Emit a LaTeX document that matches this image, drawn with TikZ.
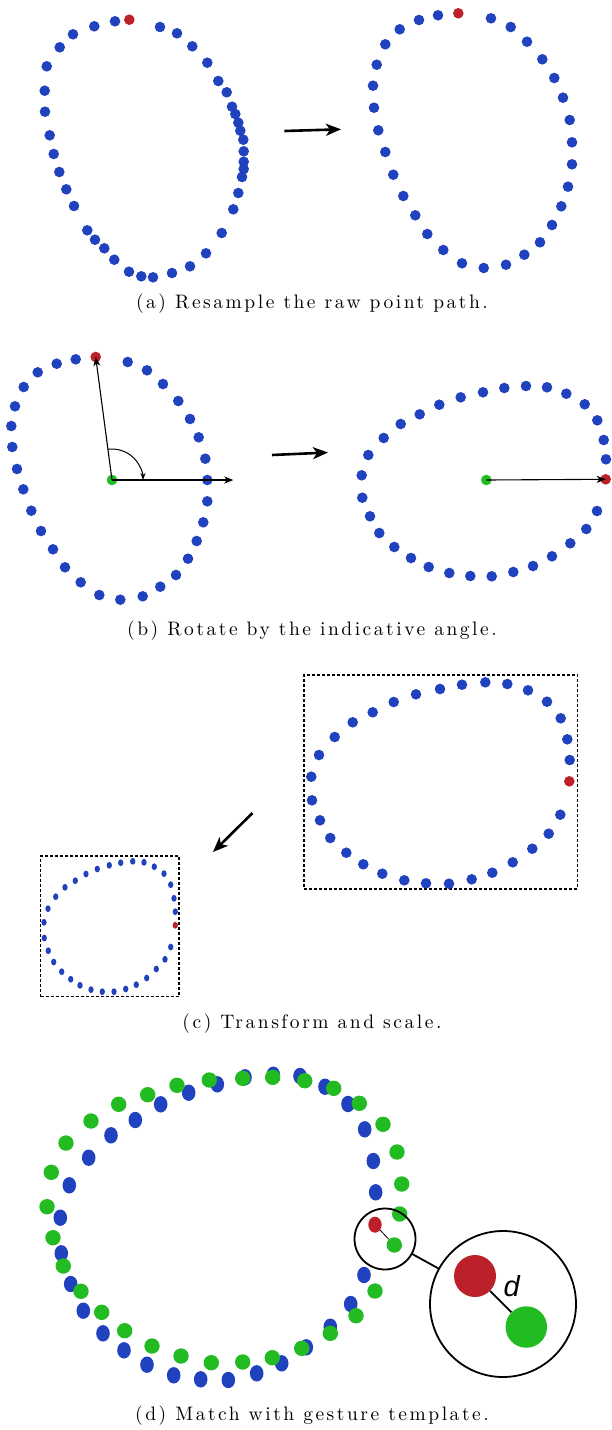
\documentclass[tikz,border=0pt]{standalone}
\usepackage{fontspec}
\newfontfamily\dfont{Liberation Sans}
\newfontfamily\capfont{lmroman10-regular.otf}[LetterSpace=13]
\usetikzlibrary{arrows.meta,shapes.geometric}
\definecolor{dotblue}{HTML}{2142BF}
\definecolor{dotred}{HTML}{BC2029}
\definecolor{dotgreen}{HTML}{22BB22}
\begin{document}
\begin{tikzpicture}[x=1pt,y=-1pt,
  bdot/.style={circle,fill=dotblue,inner sep=0pt,minimum size=10.6pt},
  rdot/.style={circle,fill=dotred,inner sep=0pt,minimum size=10.6pt},
  gdot/.style={circle,fill=dotgreen,inner sep=0pt,minimum size=10.6pt},
  sbdot/.style={ellipse,fill=dotblue,inner sep=0pt,minimum width=5.3pt,minimum height=6.8pt},
  srdot/.style={ellipse,fill=dotred,inner sep=0pt,minimum width=5.3pt,minimum height=6.8pt},
  ebdot/.style={ellipse,fill=dotblue,inner sep=0pt,minimum width=13.6pt,minimum height=16.4pt},
  erdot/.style={ellipse,fill=dotred,inner sep=0pt,minimum width=13.4pt,minimum height=16pt},
  egdot/.style={circle,fill=dotgreen,inner sep=0pt,minimum size=15.4pt},
  bigarrow/.style={line width=2.6pt,-{Stealth[length=15pt,width=12pt,inset=4pt]}},
  thinarrow/.style={line width=1.1pt,-{Stealth[length=9pt,width=7pt,inset=2.5pt]}},
  framebox/.style={draw,line width=1.4pt,dash pattern=on 3pt off 2pt},
  captext/.style={font=\capfont\fontsize{19.5}{23}\selectfont,anchor=base,inner sep=0pt},
]
\useasboundingbox (0,0) rectangle (611,1430);

% ---------- (a) ----------
\foreach \x/\y [count=\i] in {115/21.3, 94.3/26.3, 73/34.3, 59.7/47.3, 46.7/66.3, 44.7/90.7, 45/111.7, 49.7/135.3, 53.7/154, 59.3/172, 66.3/189.3, 74/206, 87.3/230.3, 95/239.7, 104.3/248.3, 114.3/259.7, 129/271.7, 141.3/276.3, 153/277.3, 172/273, 190/266.3, 206/253.3, 221.7/233, 233.3/209.3, 238.3/193, 242/177, 243.7/169, 243.7/161.7, 243.7/151.3, 243.3/139.7, 240.3/130.7, 238.3/122.7, 235.3/114, 232/106.7, 226.7/92.3, 218.3/81, 207.3/62.7, 192.3/46.3, 177/33.3, 160/27}
  \node[bdot] (aL\i) at (\x,\y) {};
\node[rdot] (aLr) at (129.3,19.7) {};

\foreach \x/\y [count=\i] in {438/15.3, 419/20, 399.7/29.3, 385.3/44.3, 376.7/64.7, 373/85.7, 374/107.7, 378.3/130.3, 385.3/152, 393.3/174.7, 403.3/196, 415.3/215.3, 427.3/234, 443.3/250, 462/263.3, 483.7/268, 506/264.7, 524.3/254.7, 540/242.3, 552/225, 561.3/206.3, 568/186.7, 572/164.3, 572/142.3, 569.7/120, 563/97.7, 554.3/78, 542.3/59.3, 527/41.7, 510.7/27, 491/18.3}
  \node[bdot] (aR\i) at (\x,\y) {};
\node[rdot] (aRr) at (458.3,13.3) {};

\coordinate (aA1) at (284.3,131);
\coordinate (aA2) at (341,129.3);
\draw[bigarrow] (aA1) -- (aA2);
\node[captext] (capa) at (312,308) {(a) Resample the raw point path.};

% ---------- (b) ----------
\foreach \x/\y [count=\i] in {75.7/359.3, 56.7/363.7, 37.7/372.3, 23.7/387, 15/406.3, 11.3/426, 12.3/447, 17/469, 23.3/489.3, 31.3/510.7, 41/531, 53/549.3, 65/567.3, 80.7/582.3, 99.3/595, 120.3/599.7, 142.7/596.3, 160.3/586.7, 176/575, 188/558.7, 196.7/541, 203.3/522.3, 207.3/501.3, 207.3/480, 205.3/458.7, 198.7/437.3, 190/419, 178.3/401, 163/384, 147/370.3, 127.7/362}
  \node[bdot] (bL\i) at (\x,\y) {};
\node[rdot] (bLr) at (95.7,357) {};
\node[gdot] (bLg) at (112,480) {};
\coordinate (bLh) at (233.3,480);
\draw[thinarrow] (bLg.center) -- (bLr.center);
\draw[thinarrow] (bLg.center) -- (bLh);
\draw[line width=1pt,-{Stealth[length=7pt,width=5pt,inset=2pt]}] (bLg.center) ++(-97.6:31) arc[start angle=-97.6,end angle=0,radius=31];

\foreach \x/\y [count=\i] in {606/459.3, 603.7/440, 597.3/420.3, 584.7/404.3, 566.3/393.7, 547/387.3, 526/386, 504.3/388, 483/392.3, 460.7/397.3, 439.3/404.7, 419.7/414.3, 400.7/424, 383.7/438, 368.3/455, 361.7/475.3, 362.3/497.7, 370/516.3, 379.3/533, 394.3/547, 411/558, 428.7/567, 449.3/573, 470.3/576, 491.7/576.3, 513.3/572, 533/566, 552/556.3, 570.3/543.3, 586.3/529, 597/511}
  \node[bdot] (bR\i) at (\x,\y) {};
\node[rdot] (bRr) at (605.7,479.3) {};
\node[gdot] (bRg) at (486.3,480) {};
\draw[thinarrow] (bRg.center) -- (bRr.center);

\coordinate (bA1) at (272,455);
\coordinate (bA2) at (328,452.5);
\draw[bigarrow] (bA1) -- (bA2);
\node[captext] (capb) at (312,635) {(b) Rotate by the indicative angle.};

% ---------- (c) ----------
\node[framebox,minimum width=273.3pt,minimum height=214pt,inner sep=0pt] (cbox) at (440.65,782) {};
\foreach \x/\y [count=\i] in {569.7/760, 567.3/739.3, 560.7/718.3, 547/701.7, 528/690.3, 507.3/684, 485.3/682.3, 462/684.7, 440/689, 416/694.3, 393.7/702, 372.7/712.3, 352.7/722.3, 334.7/737, 319/755, 311.3/776.7, 312/800.3, 320/820.3, 330.3/838, 346.3/852.7, 363.3/864.3, 382.3/873.7, 404.3/880.3, 426/883.3, 449/883.7, 471.7/879.3, 492.3/872.7, 512.7/862.3, 532.3/848.7, 548.7/833.7, 560.3/814.7}
  \node[bdot] (cB\i) at (\x,\y) {};
\node[rdot] (cBr) at (569.3,781.3) {};

\node[framebox,minimum width=138.3pt,minimum height=140.7pt,inner sep=0pt] (csbox) at (109.85,926.35) {};
\foreach \x/\y [count=\i] in {175.3/911.7, 174/898.3, 170.7/884.7, 164/873.7, 154.3/866.7, 144/862.3, 132.7/861.3, 120.7/862.7, 109.3/865.3, 97.3/869, 86/874, 75.3/880.7, 65/887.3, 55.7/896.7, 48/908.7, 44/922.3, 44.3/938, 48.3/950.7, 53.7/962, 61.7/971.7, 70.7/979.3, 80/985.3, 91/989.7, 102.3/991.7, 114/991.7, 125.7/989, 136.3/984.7, 146.7/978, 156.3/969, 165/959.3, 170.7/947}
  \node[sbdot] (cS\i) at (\x,\y) {};
\node[srdot] (cSr) at (175.3,925.3) {};

\coordinate (cA1) at (252.5,813);
\coordinate (cA2) at (213,852);
\draw[bigarrow] (cA1) -- (cA2);
\node[captext] (capc) at (312,1028) {(c) Transform and scale.};

% ---------- (d) ----------
\foreach \x/\y [count=\i] in {217.3/1084.3, 188.7/1092.7, 160.7/1104.3, 135.3/1120, 111/1135.3, 88.7/1157.7, 69.3/1185.3, 60.3/1217.7, 61.3/1253.3, 70.7/1284, 83.3/1310.7, 103/1333.3, 124/1350.3, 147/1364.7, 173.7/1375.3, 200.7/1379.3, 228.3/1380, 256.7/1373.3, 281.7/1363.3, 306.3/1347.3, 330.3/1326.7, 350.7/1304, 364/1275, 375.7/1192.3, 373.3/1161, 364.7/1129.3, 348/1104, 325/1086.7, 300/1076, 273.3/1074.7, 245/1077.3}
  \node[ebdot] (dB\i) at (\x,\y) {};
\node[erdot] (dBr) at (375,1224.7) {};
\foreach \x/\y [count=\i] in {209.3/1080, 177/1085.3, 147.7/1094.7, 118.7/1104.3, 91/1121, 66/1143, 51.3/1172.3, 47/1206.7, 53/1237.7, 63.3/1266, 81/1291.3, 101.7/1312.3, 124.7/1330.7, 152/1346, 181/1356, 211.3/1362.7, 242.7/1362, 272.3/1357.7, 301.7/1348.3, 330.3/1333.3, 356/1315.7, 375/1291, 399.7/1214, 401.7/1184, 397/1152, 383/1124.3, 359.3/1103.3, 333.7/1088.3, 304.7/1080.7, 272.7/1077.3, 242.7/1078.3}
  \node[egdot] (dG\i) at (\x,\y) {};
\node[egdot] (dGm) at (394.3,1245) {};
\draw[line width=0.8pt] (dBr) -- (dGm);

\node[circle,draw,line width=1.8pt,minimum size=61pt,inner sep=0pt] (mag1) at (385,1239) {};
\node[circle,draw,line width=1.8pt,minimum size=146pt,inner sep=0pt] (mag2) at (503,1304) {};
\draw[line width=1.8pt] (mag1) -- (mag2);
\node[circle,fill=dotred,inner sep=0pt,minimum size=42pt] (bigr) at (475,1276) {};
\node[circle,fill=dotgreen,inner sep=0pt,minimum size=41.5pt] (bigg) at (526.3,1327) {};
\draw[line width=1.8pt] (bigr) -- (bigg);
\node[font=\dfont\itshape\fontsize{29}{32}\selectfont] (dlab) at (511.7,1286) {d};

\node[captext] (capd) at (312,1420) {(d) Match with gesture template.};
\end{tikzpicture}
\end{document}
